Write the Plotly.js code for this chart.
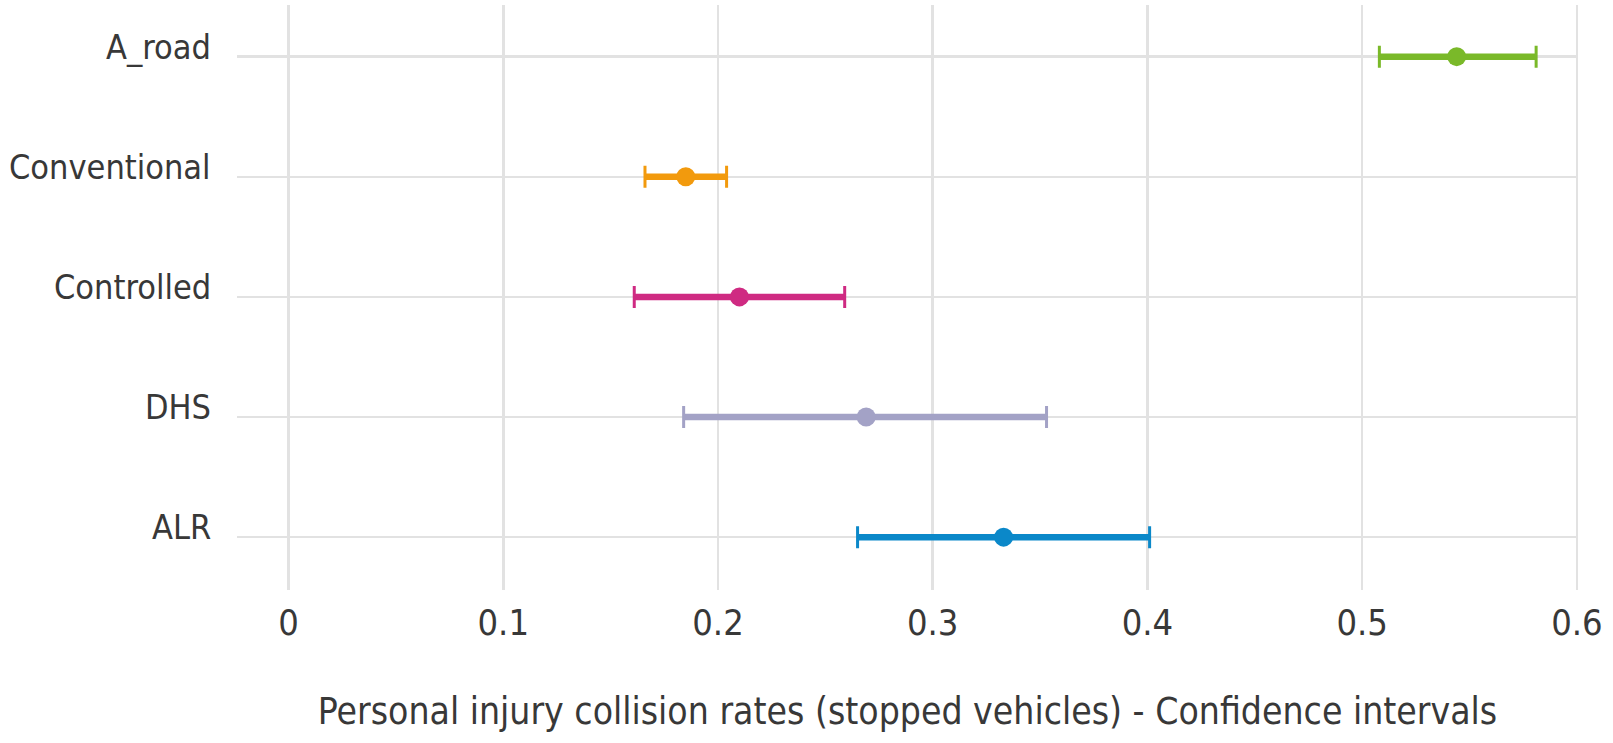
<!DOCTYPE html>
<html>
<head>
<meta charset="utf-8">
<script src="https://cdn.plot.ly/plotly-3.0.1.min.js"></script>
<style>
  html, body { margin: 0; padding: 0; background: #ffffff; }
  #chart { width: 1613px; height: 743px; }
</style>
</head>
<body>
<div id="chart"></div>
<script>
// Personal injury collision rates for stopped vehicles, by road type,
// with lower and upper confidence limits.
const categories = ['A_road', 'Conventional', 'Controlled', 'DHS', 'ALR'];
const rates      = [0.544, 0.185, 0.210, 0.269, 0.333];
const lowerBound = [0.508, 0.166, 0.161, 0.184, 0.265];
const upperBound = [0.581, 0.204, 0.259, 0.353, 0.401];
const xTicks     = [0, 0.1, 0.2, 0.3, 0.4, 0.5, 0.6];
const xTickText  = ['0', '0.1', '0.2', '0.3', '0.4', '0.5', '0.6'];

const colours = ['#7ab929', '#f29a0d', '#cf2a82', '#a3a2c6', '#0b88c9'];

const FONT = '"Liberation Sans Narrow", "Arial Narrow", "DejaVu Sans Condensed", sans-serif';
const TEXT = '#383838';

const traces = [];
categories.forEach((cat, i) => {
  // thick interval bar between the confidence limits
  traces.push({
    type: 'scatter',
    mode: 'lines',
    x: [lowerBound[i], upperBound[i]],
    y: [cat, cat],
    line: { color: colours[i], width: 6.5 },
    hoverinfo: 'skip',
    showlegend: false
  });
  // point estimate with end caps
  traces.push({
    type: 'scatter',
    mode: 'markers',
    x: [rates[i]],
    y: [cat],
    marker: { color: colours[i], size: 19 },
    error_x: {
      type: 'data',
      symmetric: false,
      array: [upperBound[i] - rates[i]],
      arrayminus: [rates[i] - lowerBound[i]],
      color: colours[i],
      thickness: 3,
      width: 11
    },
    name: cat,
    showlegend: false
  });
});

// category names sit just above their grid line, right-aligned left of the plot
const categoryLabels = categories.map(cat => ({
  xref: 'paper',
  yref: 'y',
  x: 0,
  y: cat,
  xanchor: 'right',
  yanchor: 'middle',
  xshift: -24,
  yshift: 10,
  showarrow: false,
  text: cat,
  font: { family: FONT, size: 34, color: TEXT }
}));

const layout = {
  width: 1613,
  height: 743,
  margin: { l: 237, r: 35, t: 5, b: 153 },
  paper_bgcolor: '#ffffff',
  plot_bgcolor: '#ffffff',
  font: { family: FONT, size: 36, color: TEXT },
  showlegend: false,
  annotations: categoryLabels,
  xaxis: {
    range: [-0.024, 0.6005],
    tickvals: xTicks,
    ticktext: xTickText,
    showgrid: true,
    gridcolor: '#e2e2e2',
    gridwidth: 2.5,
    zeroline: false,
    showline: false,
    ticks: '',
    ticklabelstandoff: 8,
    tickfont: { family: FONT, size: 36, color: TEXT },
    title: {
      text: 'Personal injury collision rates (stopped vehicles) - Confidence intervals',
      font: { family: FONT, size: 37, color: TEXT },
      standoff: 56
    },
    fixedrange: true
  },
  yaxis: {
    type: 'category',
    categoryorder: 'array',
    categoryarray: categories.slice().reverse(),
    range: [-0.44, 4.43],
    showgrid: true,
    gridcolor: '#e2e2e2',
    gridwidth: 2.5,
    zeroline: false,
    showline: false,
    ticks: '',
    showticklabels: false,
    fixedrange: true
  }
};

Plotly.newPlot('chart', traces, layout, { displayModeBar: false, staticPlot: true });
</script>
</body>
</html>
